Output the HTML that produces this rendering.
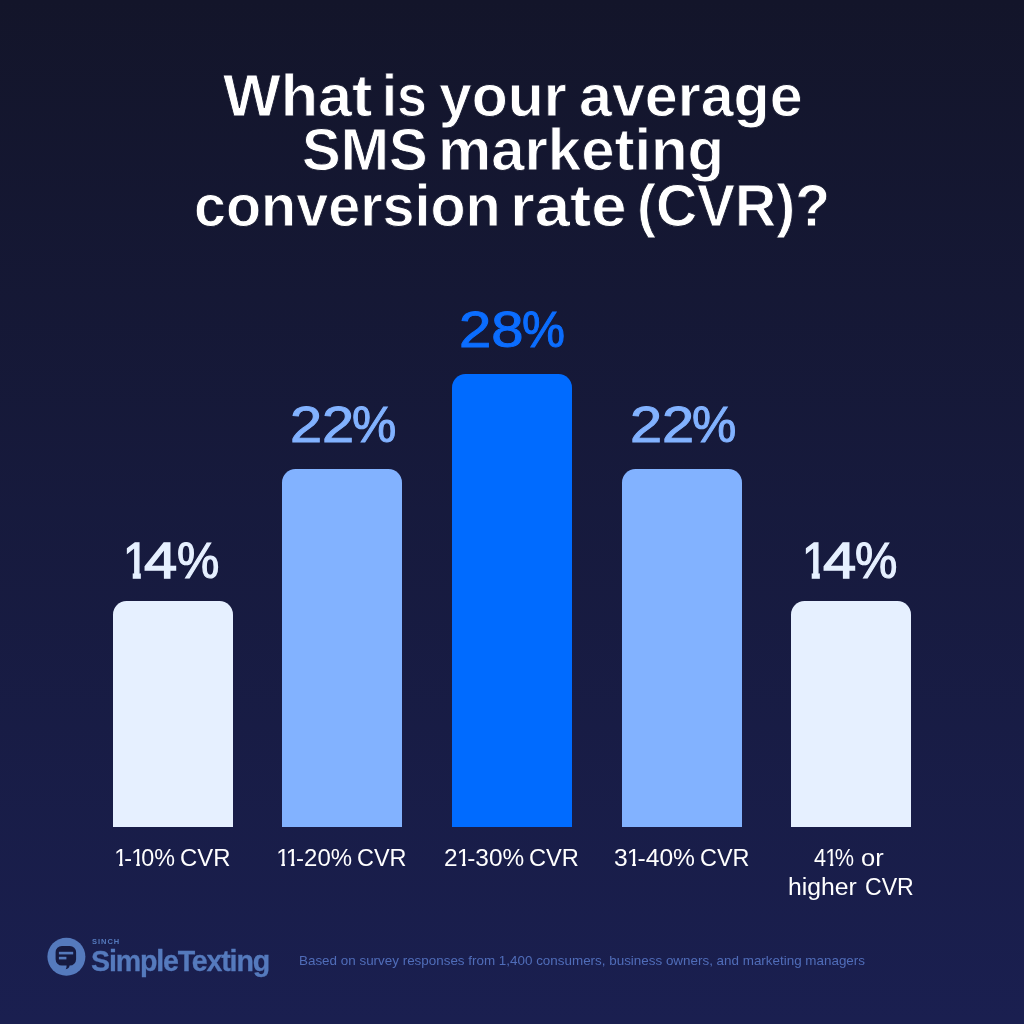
<!DOCTYPE html>
<html lang="en">
<head>
<meta charset="utf-8">
<title>SMS marketing conversion rate</title>
<style>
html,body{margin:0;padding:0;}
body{width:1024px;height:1024px;overflow:hidden;position:relative;
 background:linear-gradient(180deg,#13152a 0%,#1a1f50 100%);
 font-family:"Liberation Sans",sans-serif;color:#fff;}
.t{position:absolute;white-space:nowrap;transform-origin:0 0;line-height:1;}
.h{font-size:59.5px;color:#fff;font-weight:bold;-webkit-text-stroke:0.9px #15182f;}
.bar{position:absolute;width:120.3px;border-radius:13.5px 13.5px 0 0;}
.val{font-size:50.6px;}
.p{display:inline-block;position:relative;transform-origin:0 0;}
.lab{font-size:23.3px;color:#fff;}
.o{display:inline-block;margin:0 -2.9px 0 -0.8px;clip-path:polygon(0 0,13px 0,13px 16.8px,8.6px 16.8px,8.6px 23.3px,5px 23.3px,5px 16.8px,0 16.8px);}
.foot{font-size:13.5px;color:#506db9;}
.logo{position:absolute;left:40px;top:925px;}
</style>
</head>
<body>
<div class="t h" id="w1" style="left:222.94px;top:66.00px;transform:scaleX(1.0265)">What</div>
<div class="t h" id="w2" style="left:381.77px;top:66.00px;transform:scaleX(0.9027)">is</div>
<div class="t h" id="w3" style="left:438.59px;top:66.00px;transform:scaleX(0.9909)">your</div>
<div class="t h" id="w4" style="left:578.57px;top:66.00px;transform:scaleX(0.9941)">average</div>
<div class="t h" id="w5" style="left:302.13px;top:120.30px;transform:scaleX(0.9738)">SMS</div>
<div class="t h" id="w6" style="left:437.58px;top:120.30px;transform:scaleX(1.0063)">marketing</div>
<div class="t h" id="w7" style="left:193.94px;top:175.70px;transform:scaleX(0.9662)">conversion</div>
<div class="t h" id="w8" style="left:509.66px;top:175.70px;transform:scaleX(1.0679)">rate</div>
<div class="t h" id="w9" style="left:637.29px;top:175.70px;transform:scaleX(0.9575)">(CVR)?</div>

<div class="bar" style="left:112.6px;top:601.1px;height:225.9px;background:#e6f0ff"></div>
<div class="bar" style="left:282.1px;top:468.7px;height:358.3px;background:#82b2ff"></div>
<div class="bar" style="left:451.8px;top:373.8px;height:453.2px;background:#006bff"></div>
<div class="bar" style="left:621.6px;top:468.7px;height:358.3px;background:#82b2ff"></div>
<div class="bar" style="left:791.0px;top:601.1px;height:225.9px;background:#e6f0ff"></div>

<div class="t val" style="left:0;top:536.25px"><span class="p" id="v1a" style="left:123.32px;top:0.00px;color:#e6f0ff;-webkit-text-stroke:1.3px #e6f0ff;clip-path:polygon(0 0,28.2px 0,28.2px 36px,19.3px 36px,19.3px 50.6px,10.5px 50.6px,10.5px 36px,0 36px);transform:scaleX(0.9246)">1</span><span class="p" id="v1c" style="left:115.67px;top:0.00px;color:#e6f0ff;-webkit-text-stroke:1.3px #e6f0ff;transform:scaleX(1.1788)">4</span><span class="p" id="v1b" style="left:120.66px;top:0.00px;color:#e6f0ff;-webkit-text-stroke:1.2px #e6f0ff;transform:scaleX(0.9397)">%</span></div>
<div class="t val" style="left:0;top:400.49px"><span class="p" id="v2a" style="left:289.61px;top:0.00px;color:#82b2ff;-webkit-text-stroke:1.0px #82b2ff;transform:scaleX(1.1412)">22</span><span class="p" id="v2b" style="left:295.50px;top:0.00px;color:#82b2ff;-webkit-text-stroke:1.0px #82b2ff;transform:scaleX(0.9862)">%</span></div>
<div class="t val" style="left:0;top:305.09px"><span class="p" id="v3a" style="left:459.31px;top:0.00px;color:#0b6dff;-webkit-text-stroke:1.0px #0b6dff;transform:scaleX(1.1464)">28</span><span class="p" id="v3b" style="left:465.67px;top:0.00px;color:#0b6dff;-webkit-text-stroke:1.0px #0b6dff;transform:scaleX(0.9547)">%</span></div>
<div class="t val" style="left:0;top:400.49px"><span class="p" id="v4a" style="left:629.66px;top:0.00px;color:#82b2ff;-webkit-text-stroke:1.0px #82b2ff;transform:scaleX(1.1412)">22</span><span class="p" id="v4b" style="left:635.51px;top:0.00px;color:#82b2ff;-webkit-text-stroke:1.0px #82b2ff;transform:scaleX(0.9862)">%</span></div>
<div class="t val" style="left:0;top:536.25px"><span class="p" id="v5a" style="left:801.93px;top:0.00px;color:#e6f0ff;-webkit-text-stroke:1.3px #e6f0ff;clip-path:polygon(0 0,28.2px 0,28.2px 36px,19.3px 36px,19.3px 50.6px,10.5px 50.6px,10.5px 36px,0 36px);transform:scaleX(0.9248)">1</span><span class="p" id="v5c" style="left:794.95px;top:0.00px;color:#e6f0ff;-webkit-text-stroke:1.3px #e6f0ff;transform:scaleX(1.1788)">4</span><span class="p" id="v5b" style="left:799.03px;top:0.00px;color:#e6f0ff;-webkit-text-stroke:1.2px #e6f0ff;transform:scaleX(0.9401)">%</span></div>

<div class="t lab" id="l1a" style="left:114.77px;top:847.20px;transform:scaleX(1.0014)"><span class="o">1</span>-<span class="o">1</span>0%</div>
<div class="t lab" id="l1b" style="left:179.92px;top:847.20px;transform:scaleX(1.0248)">CVR</div>
<div class="t lab" id="l2a" style="left:277.29px;top:847.20px;transform:scaleX(1.0282)"><span class="o">1</span><span class="o">1</span>-20%</div>
<div class="t lab" id="l2b" style="left:357.36px;top:847.20px;transform:scaleX(1.0059)">CVR</div>
<div class="t lab" id="l3a" style="left:444.14px;top:847.20px;transform:scaleX(1.0455)">2<span class="o">1</span>-30%</div>
<div class="t lab" id="l3b" style="left:528.98px;top:847.20px;transform:scaleX(1.0136)">CVR</div>
<div class="t lab" id="l4a" style="left:614.04px;top:847.20px;transform:scaleX(1.0571)">3<span class="o">1</span>-40%</div>
<div class="t lab" id="l4b" style="left:700.30px;top:847.20px;transform:scaleX(1.0051)">CVR</div>
<div class="t lab" id="l5a" style="left:814.37px;top:847.20px;transform:scaleX(0.9292)">4<span class="o">1</span>%</div>
<div class="t lab" id="l5b" style="left:860.55px;top:847.20px;transform:scaleX(1.0926)">or</div>
<div class="t lab" id="l6a" style="left:788.36px;top:875.90px;transform:scaleX(1.0626)">higher</div>
<div class="t lab" id="l6b" style="left:865.34px;top:875.90px;transform:scaleX(0.9921)">CVR</div>

<div class="logo">
<svg width="250" height="65" viewBox="40 925 250 65">
 <circle cx="66.4" cy="956.8" r="19" fill="#557abd"/>
 <path d="M61.9 946h7.9a6.3 6.3 0 0 1 6.3 6.3v6.9a6.3 6.3 0 0 1 -6.3 6.3h-0.2c-0.3 2 -1.5 3.4 -3.9 3.7c0.7 -1.1 1 -2.4 0.9 -3.7h-4.7a6.3 6.3 0 0 1 -6.3 -6.3v-6.9a6.3 6.3 0 0 1 6.3 -6.3z" fill="#161a40"/>
 <rect x="58.9" y="951.8" width="14.3" height="2.6" fill="#557abd"/>
 <rect x="58.9" y="956.8" width="7.5" height="2.6" fill="#557abd"/>
 <text id="sinch" x="91.9" y="944.2" font-family="Liberation Sans, sans-serif" font-weight="bold" font-size="7.5" fill="#557abd" letter-spacing="1.0">SINCH</text>
 <text id="st" x="91" y="970.7" font-family="Liberation Sans, sans-serif" font-weight="bold" font-size="28.6" fill="#557abd" stroke="#557abd" stroke-width="0.3" letter-spacing="-1.18">SimpleTexting</text>
</svg>
</div>
<div class="t foot" id="ft" style="left:299.08px;top:954.00px;transform:scaleX(0.9938)">Based on survey responses from 1,400 consumers, business owners, and marketing managers</div>
</body>
</html>
